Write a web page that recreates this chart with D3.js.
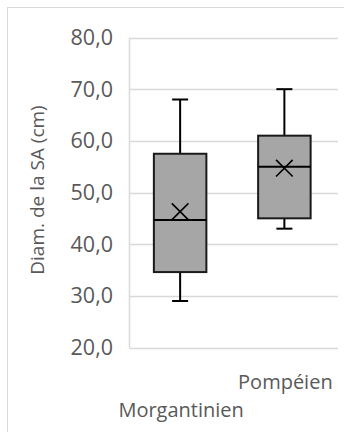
<!DOCTYPE html>
<html><head><meta charset="utf-8">
<script src="https://cdn.jsdelivr.net/npm/d3@7"></script>
<style>body{margin:0;background:#fff}svg{display:block}text{font-family:"Open Sans",sans-serif;fill:#595959}</style>
</head><body>
<svg id="c" width="344" height="432"></svg>
<script>
const categories = ["Morgantinien", "Pompéien"];
const whiskerLow = [29.0, 43.0];
const q1 = [34.6, 45.0];
const median = [44.7, 55.0];
const q3 = [57.5, 61.0];
const whiskerHigh = [68.0, 70.0];
const mean = [46.3, 54.7];
const yTicks = [20, 30, 40, 50, 60, 70, 80];
const yTitle = "Diam. de la SA (cm)";

const svg = d3.select("#c");
svg.append("rect").attr("x", 7.5).attr("y", 7.5).attr("width", 400).attr("height", 500)
  .attr("fill", "none").attr("stroke", "#d9d9d9");

const L = 129.5, R = 338, T = 37.5, B = 347.5;
const y = d3.scaleLinear().domain([20, 80]).range([B, T]);
const x = d3.scaleBand().domain(categories).range([L, R]).paddingInner(0).paddingOuter(0);

// gridlines
svg.append("g").selectAll("line").data(yTicks).join("line")
  .attr("x1", L).attr("x2", R).attr("y1", d => Math.round(y(d)) + 0.5).attr("y2", d => Math.round(y(d)) + 0.5)
  .attr("stroke", "#d9d9d9").attr("stroke-width", 1.5);
svg.append("line").attr("x1", L).attr("x2", L).attr("y1", T).attr("y2", B + 0.5)
  .attr("stroke", "#d9d9d9").attr("stroke-width", 1.5);

// y tick labels
svg.append("g").selectAll("text").data(yTicks).join("text")
  .attr("x", 113).attr("y", d => y(d)).attr("dy", "0.35em").attr("text-anchor", "end")
  .attr("font-size", 21.5).text(d => d.toFixed(1).replace(".", ","));

// y title
svg.append("text").attr("transform", "translate(43.5,190) rotate(-90)").attr("text-anchor", "middle")
  .attr("font-size", 19).text(yTitle);

// x labels (staggered)
const xLabelY = [417, 389];
svg.append("g").selectAll("text").data(categories).join("text")
  .attr("x", (d, i) => x(d) + x.bandwidth() / 2 - 0.5).attr("y", (d, i) => xLabelY[i])
  .attr("text-anchor", "middle").attr("font-size", 20).text(d => d);

const bw = 52.5, cap = 8, mk = 8.3;
const g = svg.append("g");
categories.forEach((c, i) => {
  const cx = x(c) + x.bandwidth() / 2 - 1.5;
  const s = "#000";
  g.append("line").attr("x1", cx).attr("x2", cx).attr("y1", y(whiskerHigh[i])).attr("y2", y(q3[i])).attr("stroke", s).attr("stroke-width", 2);
  g.append("line").attr("x1", cx).attr("x2", cx).attr("y1", y(q1[i])).attr("y2", y(whiskerLow[i])).attr("stroke", s).attr("stroke-width", 2);
  g.append("line").attr("x1", cx - cap).attr("x2", cx + cap).attr("y1", y(whiskerHigh[i])).attr("y2", y(whiskerHigh[i])).attr("stroke", s).attr("stroke-width", 2);
  g.append("line").attr("x1", cx - cap).attr("x2", cx + cap).attr("y1", y(whiskerLow[i])).attr("y2", y(whiskerLow[i])).attr("stroke", s).attr("stroke-width", 2);
  g.append("rect").attr("x", cx - bw / 2).attr("y", y(q3[i])).attr("width", bw).attr("height", y(q1[i]) - y(q3[i]))
    .attr("fill", "#a6a6a6").attr("stroke", "#1a1a1a").attr("stroke-width", 2);
  g.append("line").attr("x1", cx - bw / 2).attr("x2", cx + bw / 2).attr("y1", y(median[i])).attr("y2", y(median[i])).attr("stroke", s).attr("stroke-width", 2);
  const my = y(mean[i]);
  g.append("path").attr("d", `M${cx - mk},${my - mk}L${cx + mk},${my + mk}M${cx - mk},${my + mk}L${cx + mk},${my - mk}`)
    .attr("stroke", s).attr("stroke-width", 1.6).attr("fill", "none");
});
</script>
</body></html>
